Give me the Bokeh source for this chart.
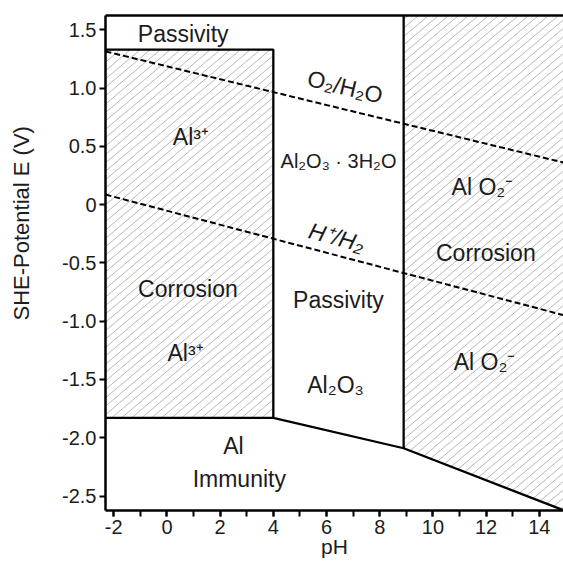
import math
from bokeh.plotting import figure
from bokeh.models import (ColumnDataSource, FixedTicker, Range1d,
                          CustomJSTickFormatter, LinearAxis)
from bokeh.embed import file_html
from bokeh.resources import INLINE
from bokeh.core.properties import value

# ---------------- data ----------------
x_major_ticks = [-2, 0, 2, 4, 6, 8, 10, 12, 14]
x_minor_ticks = list(range(-2, 16))
y_ticks = [-2.5, -2.0, -1.5, -1.0, -0.5, 0.0, 0.5, 1.0, 1.5]

ph_min, ph_max = -2.31, 14.91
E_min, E_max = -2.624, 1.622

ph_al3_oxide = 4.0        # Al3+ | Al2O3 boundary
ph_oxide_alo2 = 8.9       # Al2O3 | AlO2- boundary
E_al3_top = 1.33          # top of Al3+ field
E_al_al3 = -1.83          # Al | Al3+ boundary

imm_ph = [4.0, 8.9, 15.0]          # Al immunity boundary
imm_E = [-1.83, -2.09, -2.63]

o2_ph = [-2.31, 14.91]             # O2/H2O line
o2_E = [1.314, 0.361]
h2_ph = [-2.31, 14.91]             # H+/H2 line
h2_E = [0.086, -0.948]

lbl_text = ["Passivity", "Al³⁺", "Al₂O₃ · 3H₂O", "Al O₂⁻", "Corrosion",
            "Corrosion", "Passivity", "Al³⁺", "Al O₂⁻", "Al₂O₃", "Al", "Immunity"]
lbl_x = [0.61, 0.90, 6.45, 11.86, 11.99, 0.79, 6.45, 0.70, 11.94, 6.34, 2.50, 2.72]
lbl_y = [1.466, 0.58, 0.37, 0.147, -0.414, -0.727, -0.82, -1.276, -1.35, -1.55, -2.074, -2.35]
lbl_size = ["23px", "23px", "20px", "23px", "23px", "23px", "23px", "23px",
            "23px", "23px", "23px", "23px"]

rot_text = ["O₂/H₂O", "H⁺/H₂"]
rot_x = [6.70, 6.38]
rot_y = [1.01, -0.28]
rot_style = ["normal", "italic"]

x_title = "pH"
y_title = "SHE-Potential E (V)"

# ---------------- layout / style ----------------
FONT = "Liberation Sans"
TXT = "#1c1c1c"
W, H = 563, 561
FL, FT, FB = 105, 15, 510          # frame left / top / bottom (px)
FR = W
kx = (FR - FL) / (ph_max - ph_min)
ky = (FB - FT) / (E_max - E_min)

p = figure(width=W, height=H, output_backend="svg", toolbar_location=None,
           x_range=Range1d(ph_min, ph_max), y_range=Range1d(E_min, E_max),
           min_border_left=FL, min_border_right=0, min_border_top=FT,
           min_border_bottom=H - FB)
p.background_fill_color = "white"
p.border_fill_color = "white"
p.outline_line_color = None
p.xgrid.visible = False
p.ygrid.visible = False


def to_screen(ph, E):
    return FL + (ph - ph_min) * kx, FB - (E - E_min) * ky


def to_data(sx, sy):
    return ph_min + (sx - FL) / kx, E_min + (FB - sy) / ky


def hatch_segments(poly_ph, poly_E, spacing=10.0, angle_deg=40.0):
    """diagonal hatch lines (screen-space spacing) clipped to a convex polygon"""
    pts = [to_screen(a, b) for a, b in zip(poly_ph, poly_E)]
    m = math.tan(math.radians(angle_deg))
    vals = [y + m * x for x, y in pts]
    bmin, bmax = min(vals), max(vals)
    xs, ys = [], []
    b = bmin + (spacing * m) / 2
    n = len(pts)
    while b < bmax:
        hits = []
        for i in range(n):
            (x1, y1), (x2, y2) = pts[i], pts[(i + 1) % n]
            f1 = y1 + m * x1 - b
            f2 = y2 + m * x2 - b
            if f1 == f2:
                continue
            if (f1 <= 0 <= f2) or (f2 <= 0 <= f1):
                t = f1 / (f1 - f2)
                hits.append((x1 + t * (x2 - x1), y1 + t * (y2 - y1)))
        if len(hits) >= 2:
            hits.sort()
            a0 = to_data(*hits[0])
            a1 = to_data(*hits[-1])
            xs.append([a0[0], a1[0]])
            ys.append([a0[1], a1[1]])
        b += spacing * m
    return xs, ys


HATCH = dict(line_color="#b0b0b0", line_width=0.9)

# Al3+ corrosion field
al3_ph = [ph_min, ph_al3_oxide, ph_al3_oxide, ph_min]
al3_E = [E_al_al3, E_al_al3, E_al3_top, E_al3_top]
hx, hy = hatch_segments(al3_ph, al3_E)
p.multi_line(hx, hy, **HATCH)

# AlO2- corrosion field
E_right = imm_E[1] + (imm_E[2] - imm_E[1]) * (ph_max - imm_ph[1]) / (imm_ph[2] - imm_ph[1])
alo2_ph = [ph_oxide_alo2, ph_max, ph_max, ph_oxide_alo2]
alo2_E = [imm_E[1], E_right, E_max, E_max]
hx, hy = hatch_segments(alo2_ph, alo2_E)
p.multi_line(hx, hy, **HATCH)

# boundaries
LW = 2.3
p.line([ph_min, ph_al3_oxide, ph_al3_oxide, ph_min],
       [E_al3_top, E_al3_top, E_al_al3, E_al_al3], line_color="black", line_width=LW)
p.line([ph_oxide_alo2, ph_oxide_alo2], [imm_E[1], E_max + 0.2], line_color="black", line_width=LW)
p.line(imm_ph, imm_E, line_color="black", line_width=LW)

# water stability lines
p.line(o2_ph, o2_E, line_color="black", line_width=2, line_dash="6 3")
p.line(h2_ph, h2_E, line_color="black", line_width=2, line_dash="6 3")

# labels
src = ColumnDataSource(dict(x=lbl_x, y=lbl_y, text=lbl_text, size=lbl_size))
p.text("x", "y", "text", source=src, text_align="center", text_baseline="middle",
       text_font=value(FONT), text_font_size="size", text_color=TXT)

ang_o2 = math.atan((o2_E[1] - o2_E[0]) / (o2_ph[1] - o2_ph[0]) * ky / kx)
ang_h2 = math.atan((h2_E[1] - h2_E[0]) / (h2_ph[1] - h2_ph[0]) * ky / kx)
rsrc = ColumnDataSource(dict(x=rot_x, y=rot_y, text=rot_text,
                             angle=[ang_o2, ang_h2], style=rot_style))
p.text("x", "y", "text", angle="angle", source=rsrc, text_align="center",
       text_baseline="middle", text_font=value(FONT), text_font_size="23px",
       text_color=TXT, text_font_style="style")

# axes
for ax in (p.xaxis[0], p.yaxis[0]):
    ax.axis_line_color = "black"
    ax.axis_line_width = 2.5
    ax.major_tick_line_color = "black"
    ax.major_tick_line_width = 2
    ax.major_tick_out = 6
    ax.major_tick_in = 0
    ax.minor_tick_line_color = "black"
    ax.minor_tick_line_width = 2
    ax.minor_tick_out = 6
    ax.minor_tick_in = 0
    ax.major_label_text_font = FONT
    ax.major_label_text_font_size = "20px"
    ax.major_label_text_color = TXT
    ax.major_label_standoff = 3
    ax.axis_label_text_font = FONT
    ax.axis_label_text_font_style = "normal"
    ax.axis_label_text_color = TXT

p.xaxis.ticker = FixedTicker(ticks=x_major_ticks, minor_ticks=x_minor_ticks)
p.yaxis.ticker = FixedTicker(ticks=y_ticks, minor_ticks=[])
p.xaxis.formatter = CustomJSTickFormatter(code="return tick.toFixed(0);")
p.yaxis.formatter = CustomJSTickFormatter(
    code="return Math.abs(tick) < 1e-9 ? '0' : tick.toFixed(1);")

p.xaxis.axis_label = x_title
p.xaxis.axis_label_text_font_size = "21px"
p.xaxis.axis_label_standoff = -2

# leading no-break spaces shift the centred title upward (as in the reference)
p.yaxis.axis_label = "\u00a0" * 13 + y_title
p.yaxis.axis_label_text_font_size = "22px"
p.yaxis.axis_label_standoff = 25

# top border of the frame (no ticks)
top_ax = LinearAxis(ticker=FixedTicker(ticks=[]), major_label_text_font_size="0px",
                    axis_line_color="black", axis_line_width=2.5,
                    major_tick_line_color=None, minor_tick_line_color=None)
p.add_layout(top_ax, "above")

open("out.html", "w").write(file_html(p, INLINE))
